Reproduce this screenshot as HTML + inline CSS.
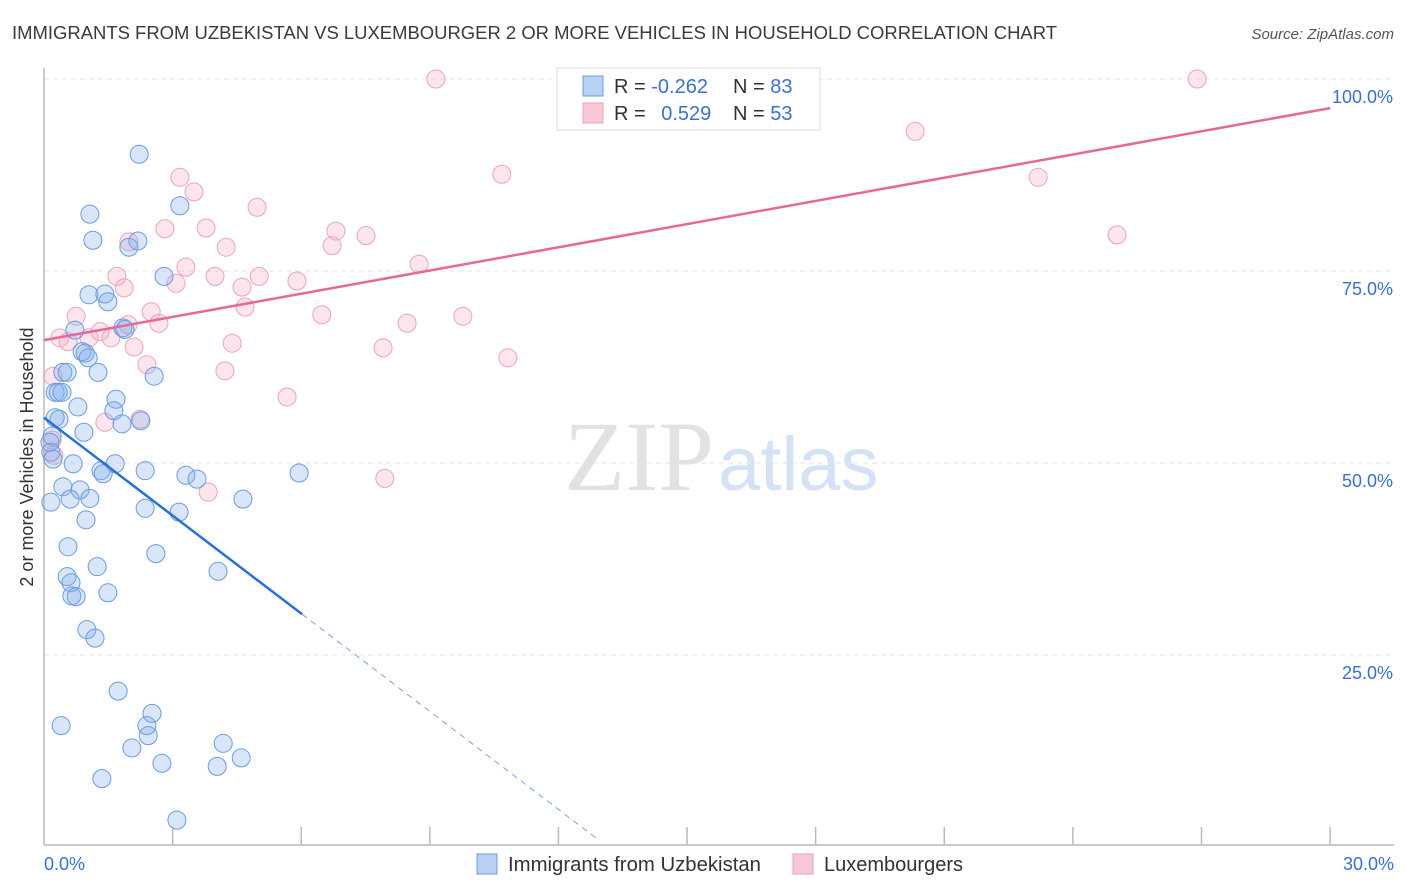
<!DOCTYPE html>
<html><head><meta charset="utf-8"><style>
body{margin:0;background:#fff;font-family:"Liberation Sans",sans-serif;}
svg{display:block}
</style></head><body>
<svg id="chart" width="1406" height="892">
<text x="12" y="39" font-size="18" fill="#3a3a3a" textLength="1045" lengthAdjust="spacingAndGlyphs">IMMIGRANTS FROM UZBEKISTAN VS LUXEMBOURGER 2 OR MORE VEHICLES IN HOUSEHOLD CORRELATION CHART</text>
<text x="1394" y="39" font-size="15" fill="#555" font-style="italic" text-anchor="end">Source: ZipAtlas.com</text>
<text x="714" y="490" font-size="100" fill="#e2e2e2" text-anchor="end" font-family="Liberation Serif">ZIP</text>
<text x="718" y="490" font-size="76" fill="#d4e2f4">atlas</text>
<text transform="translate(33,457) rotate(-90)" font-size="18" fill="#333" text-anchor="middle">2 or more Vehicles in Household</text>
<g id="grid"></g><g id="marks"></g>
<g>
<rect x="557" y="68" width="263" height="62" fill="#fff" stroke="#ddd"/>
<rect x="583" y="76" width="20" height="20" fill="#b7d1f5" stroke="#6b9be0"/>
<rect x="583" y="103" width="20" height="20" fill="#f9c8d8" stroke="#eba1bb"/>
<text x="614" y="93" font-size="20" fill="#333">R = <tspan fill="#3a70cf">-0.262</tspan></text>
<text x="733" y="93" font-size="20" fill="#333">N = <tspan fill="#3a70cf">83</tspan></text>
<text x="614" y="120" font-size="20" fill="#333">R = <tspan fill="#3a70cf" dx="10">0.529</tspan></text>
<text x="733" y="120" font-size="20" fill="#333">N = <tspan fill="#3a70cf">53</tspan></text>
</g>
<g>
<rect x="477" y="854" width="20" height="20" fill="#b7d1f5" stroke="#6b9be0"/>
<text x="508" y="871" font-size="20" fill="#333" textLength="253" lengthAdjust="spacingAndGlyphs">Immigrants from Uzbekistan</text>
<rect x="793" y="854" width="20" height="20" fill="#f9c8d8" stroke="#eba1bb"/>
<text x="824" y="871" font-size="20" fill="#333" textLength="139" lengthAdjust="spacingAndGlyphs">Luxembourgers</text>
</g>
<text x="44" y="870" font-size="18" fill="#3a70cf">0.0%</text>
<text x="1394" y="870" font-size="18" fill="#3a70cf" text-anchor="end">30.0%</text>
</svg>
<script>
const blueX=[2.22,1.07,3.17,1.14,2.19,1.98,2.80,1.05,1.42,1.49,0.72,1.84,1.89,0.89,0.96,1.03,0.44,0.54,1.26,2.57,0.26,0.33,0.42,0.79,1.68,1.63,0.35,0.93,1.82,2.26,0.19,0.14,0.16,0.21,0.68,1.66,2.36,1.33,1.38,3.31,3.57,5.95,0.44,0.84,0.61,1.07,0.16,4.64,2.36,3.15,0.98,0.56,2.61,1.24,4.06,0.54,0.63,1.49,0.65,0.75,1.00,1.19,1.73,0.40,2.52,2.40,2.43,4.18,2.05,4.60,2.75,4.04,1.35,3.10,0.26];
const blueY=[90.2,82.4,83.5,79.0,78.9,78.1,74.3,71.9,72.0,71.0,67.3,67.6,67.4,64.5,64.3,63.7,61.8,61.8,61.8,61.3,59.2,59.2,59.2,57.3,58.3,56.8,55.7,54.0,55.1,55.5,53.5,52.7,51.4,50.5,49.9,49.9,49.0,49.0,48.6,48.4,47.9,48.7,46.9,46.5,45.3,45.4,44.9,45.3,44.1,43.6,42.6,39.1,38.2,36.5,35.9,35.2,34.4,33.1,32.7,32.6,28.3,27.2,20.3,15.8,17.4,15.8,14.5,13.5,12.9,11.6,10.9,10.5,8.9,3.5,55.9];
const pinkX=[9.14,26.90,20.32,3.17,10.68,3.50,23.19,4.97,2.82,3.78,6.81,7.51,1.98,4.25,6.72,25.03,3.31,8.75,1.70,5.02,3.99,3.08,5.90,4.62,1.87,2.50,0.75,6.48,4.69,9.77,8.47,2.68,1.31,1.05,0.37,0.56,1.56,1.96,4.39,2.10,7.91,10.82,2.40,4.22,0.21,5.67,1.42,2.24,7.95,3.83,0.19,0.23];
const pinkY=[100.0,100.0,93.2,87.2,87.6,85.3,87.2,83.3,80.5,80.6,80.2,79.6,78.8,78.1,78.3,79.7,75.5,75.9,74.3,74.3,74.3,73.4,73.7,72.9,72.8,69.7,69.1,69.3,70.3,69.1,68.2,68.2,67.1,66.3,66.3,65.8,66.3,68.0,65.6,65.1,65.0,63.7,62.8,62.0,61.3,58.6,55.3,55.7,48.0,46.2,53.0,51.0];
const blueTrend=[55.9,-4.25];
const pinkTrend=[66.0,1.007];
const yTicks=[25,50,75,100];
const yTickLabels=["25.0%","50.0%","75.0%","100.0%"];
const xTicks=[3,6,9,12,15,18,21,24,27,30];

const NS="http://www.w3.org/2000/svg";
const X0=44,XS=42.87,Y0=847,YS=7.68;
const sx=v=>X0+v*XS, sy=v=>Y0-v*YS;
const grid=document.getElementById('grid'), marks=document.getElementById('marks');
function mk(tag,attrs,parent){const e=document.createElementNS(NS,tag);for(const k in attrs)e.setAttribute(k,attrs[k]);parent.appendChild(e);return e;}
yTicks.forEach((t,i)=>{
  const l=mk('line',{x1:44,x2:1394,y1:sy(t),y2:sy(t),stroke:'#e4e4e4','stroke-dasharray':'5,4'},grid);
  
  
  const tx=mk('text',{x:1393,y:sy(t)+24,'font-size':18,fill:'#3a70cf','text-anchor':'end'},grid);
  tx.textContent=yTickLabels[i];
  
  
});
const ax=mk('line',{x1:44,x2:44,y1:68,y2:845,stroke:'#bbb','stroke-width':1.5},grid);


const bx=mk('line',{x1:44,x2:1394,y1:845,y2:845,stroke:'#bbb','stroke-width':1.5},grid);


xTicks.forEach(t=>{
  const l=mk('line',{x1:sx(t),x2:sx(t),y1:827,y2:845,stroke:'#bbb','stroke-width':1.5},grid);
  
  
});
function dots(xs,ys,fill,stroke,name){
  xs.forEach((x,i)=>{
    const c=mk('circle',{cx:sx(x),cy:sy(ys[i]),r:9,fill:fill,stroke:stroke,'stroke-width':1},marks);
    
    
  });
}
dots(pinkX,pinkY,'rgba(246,168,196,0.3)','#eda3bd','luxembourger-point');
dots(blueX,blueY,'rgba(128,172,236,0.3)','#6a9be0','uzbekistan-point');
const pl=mk('line',{x1:sx(0),y1:sy(pinkTrend[0]),x2:sx(30),y2:sy(pinkTrend[0]+30*pinkTrend[1]),stroke:'#e8679a','stroke-width':2.5},marks);


const bl=mk('line',{x1:sx(0),y1:sy(blueTrend[0]),x2:sx(6.02),y2:sy(blueTrend[0]+6.02*blueTrend[1]),stroke:'#2a6fd6','stroke-width':2.5},marks);


const bd=mk('line',{x1:sx(6.02),y1:sy(blueTrend[0]+6.02*blueTrend[1]),x2:sx(12.92),y2:sy(blueTrend[0]+12.92*blueTrend[1]),stroke:'#7aa3e0','stroke-width':1,'stroke-dasharray':'6,5'},marks);


</script>
</body></html>
